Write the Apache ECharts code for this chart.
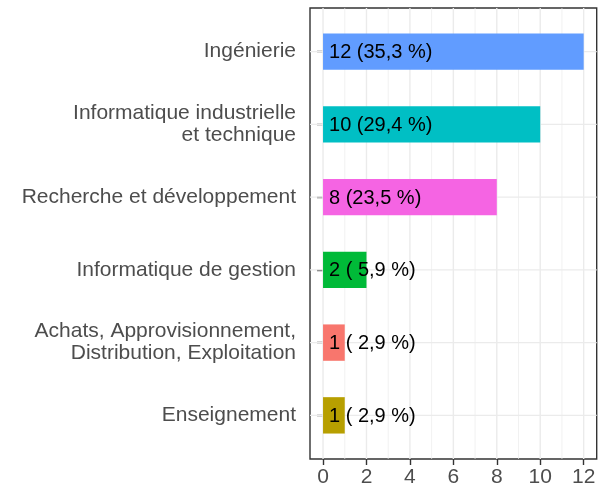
<!DOCTYPE html>
<html>
<head>
<meta charset="utf-8">
<script src="https://cdn.jsdelivr.net/npm/echarts@6/dist/echarts.min.js"></script>
<style>
  html, body { margin: 0; padding: 0; background: #fff; }
  #chart { width: 609px; height: 489px; }
</style>
</head>
<body>
<div id="chart"></div>
<script>
// catégories, de haut en bas
const categories = [
  'Ingénierie',
  'Informatique industrielle\net technique',
  'Recherche et développement',
  'Informatique de gestion',
  'Achats, Approvisionnement,\nDistribution, Exploitation',
  'Enseignement'
];
const counts = [12, 10, 8, 2, 1, 1];
const barColors = ['#619CFF', '#00BFC4', '#F564E3', '#00BA38', '#F8766D', '#B79F00'];
const xTicks = [0, 2, 4, 6, 8, 10, 12];
const xMinor = [1, 3, 5, 7, 9, 11];
const yPos = [1, 2, 3, 4, 5, 6];

const FONT = '"Liberation Sans", Arial, sans-serif';

// texte des étiquettes : "12 (35,3 %)"
const total = counts.reduce((a, b) => a + b, 0);
const labels = counts.map((c) => {
  let p = (c / total * 100).toFixed(1).replace('.', ',');
  if (p.length < 4) p = ' ' + p;
  return c + ' (' + p + ' %)';
});

let chart = echarts.init(document.getElementById('chart'));

function vLine(width) {
  return function (params, api) {
    const x = api.value(0);
    const a = api.coord([x, 0.4]);
    const b = api.coord([x, 6.6]);
    return {
      type: 'line',
      shape: { x1: a[0], y1: a[1], x2: b[0], y2: b[1] },
      style: { stroke: '#EBEBEB', lineWidth: width }
    };
  };
}

chart.setOption({
  animation: false,
  grid: {
    left: 310, right: 12.3, top: 8, bottom: 30,
    show: true, borderColor: '#333333', borderWidth: 1.4,
    backgroundColor: '#ffffff',
    containLabel: false, outerBoundsMode: 'none'
  },
  xAxis: {
    type: 'value', min: -0.6, max: 12.6,
    axisLine: { show: false },
    splitLine: { show: false },
    axisTick: { show: true, customValues: xTicks, length: 6, lineStyle: { color: '#333333', width: 1.4 } },
    axisLabel: { customValues: xTicks, color: '#4D4D4D', fontSize: 21, margin: 8, fontFamily: FONT }
  },
  yAxis: {
    type: 'value', inverse: true, min: 0.4, max: 6.6,
    axisLine: { show: false },
    splitLine: { show: false },
    axisTick: { show: true, customValues: yPos, length: 6, lineStyle: { color: '#333333', width: 1.4 } },
    axisLabel: {
      customValues: yPos, color: '#4D4D4D', fontSize: 21, lineHeight: 22, margin: 14, fontFamily: FONT,
      formatter: (v) => categories[Math.round(v) - 1]
    }
  },
  series: [
    {
      // grille mineure
      type: 'custom', z: 1, silent: true,
      data: xMinor.map((v) => [v, 1]),
      renderItem: vLine(0.7)
    },
    {
      // grille majeure
      type: 'custom', z: 1, silent: true,
      data: xTicks.map((v) => [v, 1]),
      renderItem: vLine(1.4)
    },
    {
      type: 'custom', z: 1, silent: true,
      data: yPos.map((y) => [0, y]),
      renderItem: function (params, api) {
        const y = api.value(1);
        const a = api.coord([-0.6, y]);
        const b = api.coord([12.6, y]);
        return {
          type: 'line',
          shape: { x1: a[0], y1: a[1], x2: b[0], y2: b[1] },
          style: { stroke: '#EBEBEB', lineWidth: 1.4 }
        };
      }
    },
    {
      // barres + étiquettes
      type: 'custom', z: 2, silent: true,
      data: counts.map((c, i) => [c, yPos[i], i]),
      renderItem: function (params, api) {
        const v = api.value(0);
        const y = api.value(1);
        const i = api.value(2);
        const s = api.coord([0, y]);
        const e = api.coord([v, y]);
        const h = api.size([0, 0.5])[1];
        return {
          type: 'group',
          children: [
            {
              type: 'rect',
              shape: { x: s[0], y: s[1] - h / 2, width: e[0] - s[0], height: h },
              style: { fill: barColors[i] }
            },
            {
              type: 'text',
              style: {
                x: s[0] + 6, y: s[1] + 1,
                text: labels[i], fill: '#000000',
                fontSize: 20, fontFamily: FONT,
                align: 'left', verticalAlign: 'middle'
              }
            }
          ]
        };
      }
    }
  ]
});
</script>
</body>
</html>
